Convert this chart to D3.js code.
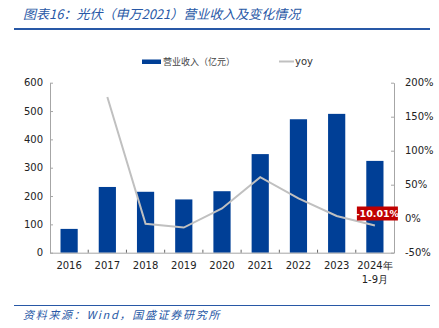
<!DOCTYPE html>
<html><head><meta charset="utf-8">
<script src="https://cdn.jsdelivr.net/npm/d3@7/dist/d3.min.js"></script>
<style>body{margin:0;background:#fff}svg{display:block}</style>
</head><body><svg id="c" width="439" height="328"></svg>
<script>
const categories = ["2016","2017","2018","2019","2020","2021","2022","2023","2024年|1-9月"];
const revenue = [84, 232, 215, 188, 217, 348, 471, 490, 324];
const yoy = [null, 1.79, -0.075, -0.13, 0.15, 0.61, 0.30, 0.04, -0.1001];
const leftTicks = [0,100,200,300,400,500,600];
const rightTicks = [-0.5,0,0.5,1,1.5,2];

const svg = d3.select("#c");
const blue = "#003f96", titleBlue = "#2858a6", axisC = "#a6a6a6";
const L = 50, R = 394, T = 82.7, B = 252.7;
const font = "'Noto Sans CJK SC', sans-serif";
const tickFont = "Tahoma, 'DejaVu Sans', sans-serif";

// title
svg.append("text").attr("x", 23).attr("y", 19).attr("font-family", font)
  .attr("font-size", 13).attr("font-style", "italic").attr("fill", titleBlue)
  .text("图表16：光伏（申万2021）营业收入及变化情况");
svg.append("line").attr("x1", 14).attr("x2", 430).attr("y1", 29).attr("y2", 29)
  .attr("stroke", titleBlue).attr("stroke-width", 2);
// footer
svg.append("line").attr("x1", 14).attr("x2", 430).attr("y1", 305.5).attr("y2", 305.5)
  .attr("stroke", titleBlue).attr("stroke-width", 1);
svg.append("text").attr("x", 23).attr("y", 319).attr("font-family", font)
  .attr("font-size", 11).attr("font-style", "italic").attr("letter-spacing", 1.7).attr("fill", titleBlue)
  .text("资料来源：Wind，国盛证券研究所");

const x = d3.scaleBand().domain(categories).range([L, R]).paddingInner(0.55).paddingOuter(0.275);
const xb = d3.scaleBand().domain(categories).range([L, R]);
const y = d3.scaleLinear().domain([0, 600]).range([B, T]);
const y2 = d3.scaleLinear().domain([-0.5, 2]).range([B, T]);

// left axis
const gl = svg.append("g").attr("transform", `translate(${L},0)`)
  .call(d3.axisLeft(y).tickValues(leftTicks).tickSizeInner(-3).tickSizeOuter(0).tickPadding(7));
// right axis
const gr = svg.append("g").attr("transform", `translate(${R},0)`)
  .call(d3.axisRight(y2).tickValues(rightTicks).tickSizeInner(-3).tickSizeOuter(0).tickPadding(11)
    .tickFormat(d => Math.round(d*100) + "%"));
[gl, gr].forEach(g => {
  g.select(".domain").attr("stroke", axisC);
  g.selectAll(".tick line").attr("stroke", axisC);
  g.selectAll("text").attr("font-family", tickFont).attr("font-size", 10).attr("fill", "#222");
});

// bars
svg.append("g").selectAll("rect").data(revenue).join("rect")
  .attr("x", (d, i) => x(categories[i])).attr("width", x.bandwidth())
  .attr("y", d => y(d)).attr("height", d => B - y(d)).attr("fill", blue);

// bottom axis
const gb = svg.append("g").attr("transform", `translate(0,${B})`)
  .call(d3.axisBottom(xb).tickSize(0).tickPadding(8).tickFormat(""));
gb.select(".domain").attr("stroke", axisC);
const bnd = categories.slice(1).map(c => xb(c));
svg.append("g").selectAll("line").data(bnd).join("line")
  .attr("x1", d => d).attr("x2", d => d).attr("y1", B).attr("y2", B - 3).attr("stroke", "#666");
const lab = svg.append("g").selectAll("text").data(categories).join("text")
  .attr("x", d => xb(d) + xb.bandwidth()/2).attr("y", B + 16)
  .attr("text-anchor", "middle").attr("font-family", tickFont).attr("font-size", 10).attr("fill", "#222");
lab.each(function(d) {
  const parts = d.split("|");
  parts.forEach((p, k) => d3.select(this).append("tspan")
    .attr("x", xb(d) + xb.bandwidth()/2).attr("dy", k ? 14 : 0).text(p));
});

// line
const pts = yoy.map((v, i) => [categories[i], v]).filter(p => p[1] !== null);
svg.append("path").datum(pts)
  .attr("d", d3.line().x(p => xb(p[0]) + xb.bandwidth()/2).y(p => y2(p[1])))
  .attr("fill", "none").attr("stroke", "#c0c0c0").attr("stroke-width", 2);

// data label
const last = pts[pts.length - 1];
const lx = xb(last[0]) + xb.bandwidth()/2, ly = y2(last[1]);
svg.append("rect").attr("x", lx - 18).attr("y", ly - 19).attr("width", 41).attr("height", 14).attr("fill", "#c00000");
svg.append("text").attr("x", lx + 2.5).attr("y", ly - 8.5).attr("text-anchor", "middle")
  .attr("font-family", tickFont).attr("font-size", 9.5).attr("font-weight", "bold").attr("fill", "#fff")
  .text((last[1]*100).toFixed(2) + "%");

// legend
svg.append("rect").attr("x", 142).attr("y", 59.5).attr("width", 19).attr("height", 4.5).attr("fill", blue);
svg.append("text").attr("x", 163).attr("y", 65).attr("font-family", font).attr("font-size", 9).attr("fill", "#444")
  .text("营业收入（亿元）");
svg.append("line").attr("x1", 279).attr("x2", 294).attr("y1", 61.5).attr("y2", 61.5).attr("stroke", "#c0c0c0").attr("stroke-width", 2);
svg.append("text").attr("x", 295).attr("y", 65).attr("font-family", tickFont).attr("font-size", 10).attr("fill", "#333").text("yoy");
</script></body></html>
